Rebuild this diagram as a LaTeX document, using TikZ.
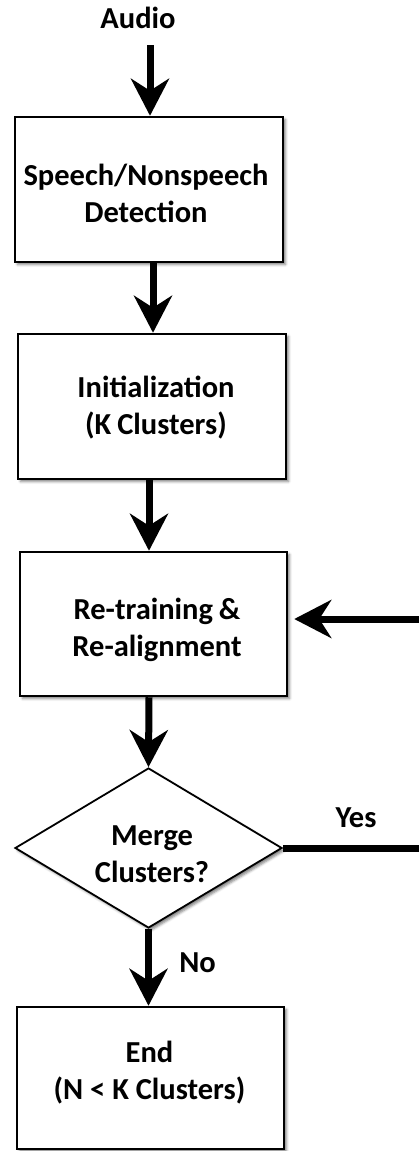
\documentclass[tikz,border=0pt]{standalone}
\usepackage{fontspec}
\setmainfont{Carlito}
\usetikzlibrary{arrows.meta,shapes.geometric,shadows.blur}

\begin{document}
\begin{tikzpicture}[x=1pt,y=-1pt,
  txt/.style={font=\fontsize{30.5}{37}\selectfont\bfseries, text=black, inner sep=0pt},
  twoline/.style={txt, align=center, text height=62.9pt, text depth=11.1pt},
  lbl/.style={txt, anchor=base},
  shade/.style={blur shadow={shadow xshift=2.5pt, shadow yshift=-2.5pt,
      shadow blur radius=2.5pt, shadow opacity=50}},
  procbox/.style={draw=black, line width=2.5pt, fill=white, shade,
      rectangle, inner sep=0pt},
  decision/.style={draw=black, line width=1.8pt, fill=white, shade,
      diamond, inner sep=0pt},
  flow/.style={line width=7pt, -{Stealth[length=37pt, width=38pt, inset=12pt]}},
  plain/.style={line width=7pt}]

  % canvas
  \useasboundingbox (0,0) rectangle (419,1151);

  % input label
  \node[lbl] (audio) at (138,28) {Audio};
  \coordinate (src) at (150,45);

  % process steps (frames)
  \node[procbox, minimum width=268pt, minimum height=145pt] (detect) at (149,189.5) {};
  \node[procbox, minimum width=268pt, minimum height=145pt] (init) at (152,406.5) {};
  \node[procbox, minimum width=267pt, minimum height=144pt] (retrain) at (153.5,624) {};
  \node[decision, minimum width=267pt, minimum height=160pt] (merge) at (148.5,848) {};
  \node[procbox, minimum width=267pt, minimum height=142pt] (finish) at (150.5,1078) {};

  % step texts
  \node[twoline] (detect-t) at ([xshift=-3pt, yshift=-7.1pt]detect.center)
    {Speech/Nonspeech\\Detection};
  \node[twoline] (init-t) at ([xshift=4pt, yshift=-1.7pt]init.center)
    {Initialization\\(K\kern-1pt\ Clusters)};
  \node[twoline] (retrain-t) at ([xshift=3.5pt, yshift=-6.7pt]retrain.center)
    {Re-training\kern-1pt\ \&\\Re-alignment};
  \node[twoline] (merge-t) at ([xshift=3.5pt, yshift=-8.1pt]merge.center)
    {Merge\\Clusters?};
  \node[twoline] (finish-t) at ([xshift=-1pt, yshift=4.1pt]finish.center)
    {End\\(N {<} K Clusters)};

  % branch labels
  \node[lbl] (yes) at (356,827) {Yes};
  \node[lbl] (no) at (197.5,972) {No};

  % loop-back ends at the right margin
  \coordinate (yesend) at (419,848);
  \coordinate (backstart) at (419,619);

  % main flow
  \draw[flow] (src) -- (src |- detect.north);
  \draw[flow] ([xshift=4pt]detect.south) -- ([xshift=4pt]detect.south |- init.north);
  \draw[flow] ([xshift=-3pt]init.south) -- ([xshift=-3pt]init.south |- retrain.north);
  \draw[flow] ([xshift=-4.5pt]retrain.south) -- (merge.north);
  \draw[flow] (merge.south) -- (merge.south |- finish.north);

  % merge loop
  \draw[plain] (merge.east) -- (merge.east -| yesend);
  \draw[flow] (backstart) -- ([xshift=6pt]backstart -| retrain.east);
\end{tikzpicture}
\end{document}
